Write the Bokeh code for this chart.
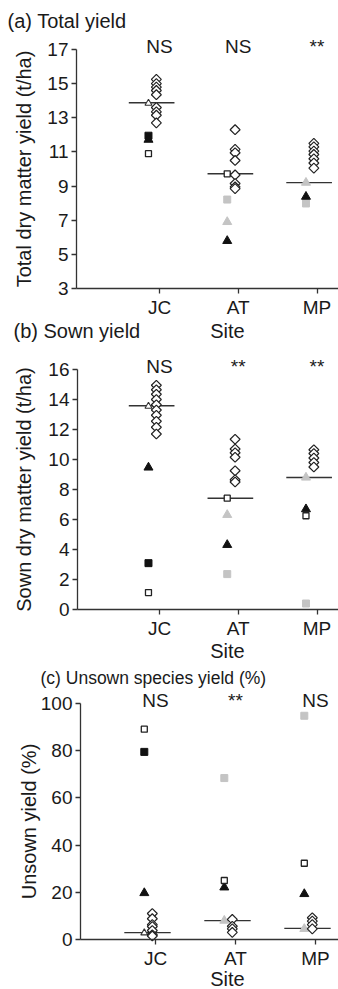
import math
from bokeh.plotting import figure
from bokeh.models import FixedTicker, Range1d, Label, ColumnDataSource
from bokeh.layouts import column
from bokeh.embed import file_html
from bokeh.resources import INLINE

sites = ["JC", "AT", "MP"]

# (a) Total yield (t/ha)
total_mixtures = [
    [15.25, 15.0, 14.8, 14.6, 14.35, 13.6, 13.35, 13.15, 12.7],
    [12.3, 11.15, 10.95, 10.5, 9.65, 9.15, 8.95, 8.85],
    [11.5, 11.3, 11.05, 10.85, 10.6, 10.35, 10.05],
]
total_median = [13.88, 9.72, 9.2]
total_grey_square = [None, 8.21, 7.98]
total_grey_triangle = [None, 6.9, 9.2]
total_black_square = [11.95, None, None]
total_black_triangle = [11.72, 5.79, 8.38]
total_open_square = [10.9, 9.72, None]
total_open_triangle = [13.85, None, None]
total_sig = ["NS", "NS", "**"]
total_ticks = [3, 5, 7, 9, 11, 13, 15, 17]

# (b) Sown yield (t/ha)
sown_mixtures = [
    [14.95, 14.65, 14.35, 14.0, 13.65, 13.3, 12.95, 12.55, 12.15, 11.7],
    [11.35, 10.7, 10.45, 10.15, 9.25, 8.65, 8.5],
    [10.65, 10.4, 10.1, 9.8, 9.5],
]
sown_median = [13.58, 7.42, 8.8]
sown_grey_square = [None, 2.36, 0.4]
sown_grey_triangle = [None, 6.31, 8.8]
sown_black_square = [3.09, None, None]
sown_black_triangle = [9.47, 4.31, 6.69]
sown_open_square = [1.13, 7.42, 6.25]
sown_open_triangle = [13.55, None, None]
sown_sig = ["NS", "**", "**"]
sown_ticks = [0, 2, 4, 6, 8, 10, 12, 14, 16]

# (c) Unsown species yield (%)
unsown_mixtures = [
    [11.0, 8.8, 6.3, 5.5, 3.8, 2.0, 1.5],
    [8.5, 5.6, 4.5, 3.0],
    [9.2, 7.8, 6.3, 4.5],
]
unsown_median = [2.9, 8.0, 4.7]
unsown_grey_square = [None, 68.4, 94.8]
unsown_grey_triangle = [None, 8.0, 4.5]
unsown_black_square = [79.5, None, None]
unsown_black_triangle = [19.7, 22.1, 19.3]
unsown_open_square = [89.1, 25.0, 32.3]
unsown_open_triangle = [2.8, None, None]
unsown_sig = ["NS", "**", "NS"]
unsown_ticks = [0, 20, 40, 60, 80, 100]

FONT = "Liberation Sans"
INK = "#1a1a1a"
AXIS = "#333333"
GREY = "#c4c4c4"

STYLES = {
    "grey_square": dict(marker="square", size=7, fill_color=GREY, line_color=GREY, line_width=1),
    "grey_triangle": dict(marker="triangle", size=9, fill_color=GREY, line_color=GREY, line_width=1),
    "black_square": dict(marker="square", size=7, fill_color="#111111", line_color="#111111", line_width=1),
    "black_triangle": dict(marker="triangle", size=9, fill_color="#111111", line_color="#111111", line_width=1),
    "open_square": dict(marker="square", size=6, fill_color="white", line_color="#222222", line_width=1.3),
    "open_triangle": dict(marker="triangle", size=7, fill_color="white", line_color="#333333", line_width=1.1),
}

OFF_MIX = -0.04
OFF_SPECIAL = -0.14
LINE_C = -0.1
LINE_HALF = 0.29
WIDTH = 338
PAGE_LEFT = 0


def make_panel(mix, med, specials, sig, yr, yticks, ylabel, geo, texts):
    # geo: figure top (page y), height, axis top/bottom (page y), axis x (page x),
    #      page x of first and last category tick, axis-label standoff
    ftop, H, atop, abot, ax_x, t_first, t_last, ystand = geo
    ppu = (abot - atop) / (yr[1] - yr[0])
    xppu = (t_last - t_first) / (len(sites) - 1)

    def ypage(py):
        return yr[1] - (py - atop) / ppu

    def xpage(px):
        return 1 + (px - t_first) / xppu

    x0 = xpage(PAGE_LEFT)
    x1 = xpage(PAGE_LEFT + WIDTH)
    y1 = ypage(ftop)
    y0 = ypage(ftop + H)

    p = figure(width=WIDTH, height=H, x_range=Range1d(x0, x1), y_range=Range1d(y0, y1),
               output_backend="svg", toolbar_location=None, title=None,
               min_border=0, min_border_top=0, min_border_bottom=0,
               min_border_left=0, min_border_right=0)
    p.outline_line_color = None
    p.xgrid.grid_line_color = None
    p.ygrid.grid_line_color = None
    p.background_fill_color = "white"
    p.border_fill_color = "white"

    pos = list(range(1, len(sites) + 1))
    # median lines
    src = ColumnDataSource(dict(
        x0=[q + LINE_C - LINE_HALF for q in pos],
        x1=[q + LINE_C + LINE_HALF for q in pos],
        y=med))
    p.segment(x0="x0", x1="x1", y0="y", y1="y", source=src, line_color=AXIS, line_width=1.4)

    # special treatments
    for name, vals in specials:
        xs = [q + OFF_SPECIAL for q, v in zip(pos, vals) if v is not None]
        ys = [v for v in vals if v is not None]
        if xs:
            p.scatter(x=xs, y=ys, **STYLES[name])

    # mixtures (open diamonds)
    mx, my = [], []
    for q, vals in zip(pos, mix):
        for v in vals:
            mx.append(q + OFF_MIX)
            my.append(v)
    p.scatter(x=mx, y=my, marker="square", angle=math.pi / 4, size=7,
              fill_color="white", line_color="#222222", line_width=1.2)

    # axes (drawn at fixed places inside the canvas, limited to the data extent)
    for ax in (p.xaxis[0], p.yaxis[0]):
        ax.axis_line_color = AXIS
        ax.axis_line_width = 1.3
        ax.major_tick_line_color = AXIS
        ax.major_tick_line_width = 1.3
        ax.major_tick_out = 5
        ax.major_tick_in = 0
        ax.minor_tick_line_color = None
        ax.major_label_text_font = FONT
        ax.major_label_text_font_size = "19px"
        ax.major_label_text_color = INK
        ax.major_label_standoff = 3
    p.yaxis.fixed_location = xpage(ax_x)
    p.yaxis.bounds = (yr[0], yr[1])
    p.xaxis.fixed_location = yr[0]
    p.xaxis.bounds = (xpage(ax_x), x1)
    p.xaxis.ticker = FixedTicker(ticks=pos)
    p.xaxis.major_label_overrides = {q: s for q, s in zip(pos, sites)}
    p.yaxis.ticker = FixedTicker(ticks=yticks)
    p.yaxis.axis_label = ylabel
    p.yaxis.axis_label_text_font = FONT
    p.yaxis.axis_label_text_font_size = "20px"
    p.yaxis.axis_label_text_font_style = "normal"
    p.yaxis.axis_label_text_color = INK
    p.yaxis.axis_label_standoff = ystand

    # significance marks (vertical middle just above the axis top)
    for q, s in zip(pos, sig):
        p.add_layout(Label(x=q, y=ypage(atop - 3), text=s, text_align="center",
                           text_baseline="middle", text_font=FONT,
                           text_font_size="19px", text_color=INK))
    # free texts: (text, page x, page y of text middle, align, size)
    for t, px, py, al, fs in texts:
        p.add_layout(Label(x=xpage(px), y=ypage(py), text=t, text_align=al,
                           text_baseline="middle", text_font=FONT,
                           text_font_size=fs, text_color=INK))
    return p


pa = make_panel(
    total_mixtures, total_median,
    [("grey_square", total_grey_square), ("grey_triangle", total_grey_triangle),
     ("black_square", total_black_square), ("black_triangle", total_black_triangle),
     ("open_square", total_open_square), ("open_triangle", total_open_triangle)],
    total_sig, (3, 17), total_ticks, "Total dry matter yield (t/ha)",
    (0, 320, 49, 288, 76, 159, 316.5, 9),
    [("(a) Total yield", 7, 20, "left", "20px")])

pb = make_panel(
    sown_mixtures, sown_median,
    [("grey_square", sown_grey_square), ("grey_triangle", sown_grey_triangle),
     ("black_square", sown_black_square), ("black_triangle", sown_black_triangle),
     ("open_square", sown_open_square), ("open_triangle", sown_open_triangle)],
    sown_sig, (0, 16), sown_ticks, "Sown dry matter yield (t/ha)",
    (320, 342, 369, 609, 77, 159, 316.5, 10),
    [("(b) Sown yield", 13, 330, "left", "20px"),
     ("Site", 227, 330, "center", "20px"),
     ("Site", 227, 650, "center", "20px")])

pc = make_panel(
    unsown_mixtures, unsown_median,
    [("grey_square", unsown_grey_square), ("grey_triangle", unsown_grey_triangle),
     ("black_square", unsown_black_square), ("black_triangle", unsown_black_triangle),
     ("open_square", unsown_open_square), ("open_triangle", unsown_open_triangle)],
    unsown_sig, (0, 100), unsown_ticks, "Unsown yield (%)",
    (662, 327, 703, 939, 80, 155, 315, -2),
    [("(c) Unsown species yield (%)", 40, 677, "left", "17.5px"),
     ("Site", 227, 978, "center", "20px")])

layout = column(pa, pb, pc, spacing=0)
open("out.html", "w").write(file_html(layout, INLINE))
